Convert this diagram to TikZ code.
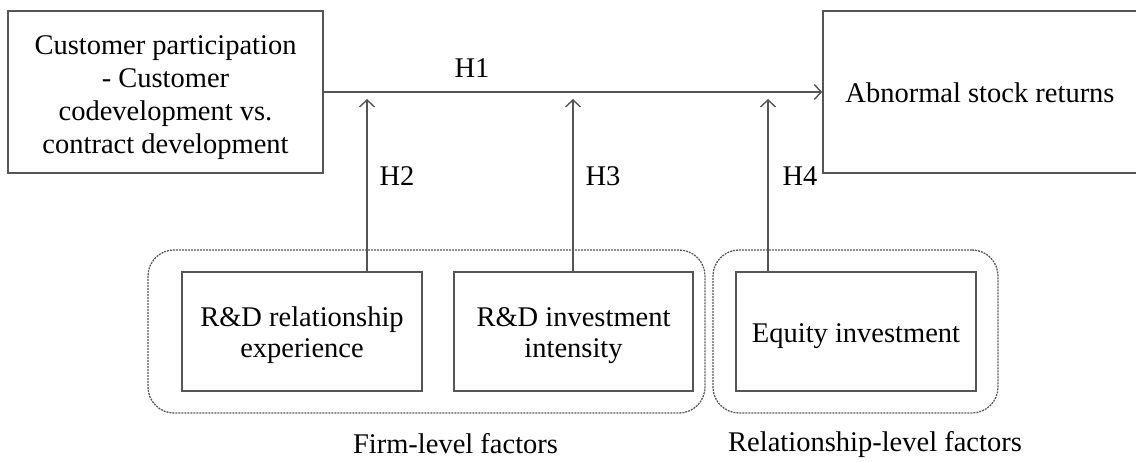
\documentclass[tikz,border=0pt]{standalone}
\usepackage{fontspec}
\setmainfont{Liberation Serif}
\usetikzlibrary{arrows.meta}
\definecolor{linegray}{RGB}{85,85,85}
\definecolor{dashgray}{RGB}{90,90,90}
\newcommand{\lift}[1]{\rule{0pt}{#1}}
\begin{document}
\begin{tikzpicture}[x=1pt,y=-1pt,
  txt/.style={font=\fontsize{28.5}{33}\selectfont, text=black, align=center, inner sep=0pt},
  varbox/.style={txt, draw=linegray, line width=1.6pt, minimum width=#1},
  groupbox/.style={draw=dashgray, line width=1.3pt, dash pattern=on 2pt off 1pt, rounded corners=26pt, minimum height=163pt, inner sep=0pt},
  link/.style={draw=linegray, line width=1.6pt, -{Straight Barb[length=7pt,width=15pt,line width=1.4pt]}},
  hlabel/.style={txt}
]
\useasboundingbox (0,0) rectangle (1136,462);

% groups
\node[groupbox, minimum width=557pt] (g1) at (426.5,331.5) {};
\node[groupbox, minimum width=285pt] (g2) at (855.5,331.5) {};

% main boxes
\node[varbox=315pt, minimum height=162pt] (cp) at (165.5,92) {\lift{30pt}Customer participation\\- Customer\\codevelopment vs.\\contract development};
\node[varbox=314pt, minimum height=162pt] (asr) at (980,92) {\lift{21pt}Abnormal stock returns};

% moderator boxes
\node[varbox=240pt, minimum height=119pt, font=\fontsize{28.5}{31}\selectfont] (rde) at (302,331.5) {\lift{27pt}R\&D relationship\\experience};
\node[varbox=239pt, minimum height=119pt, font=\fontsize{28.5}{31}\selectfont] (rdi) at (573.5,331.5) {\lift{27pt}R\&D investment\\intensity};
\node[varbox=240pt, minimum height=119pt] (eq) at (856,331.5) {\lift{27.5pt}Equity investment};

% main effect
\draw[link] (cp.east) -- (asr.west);
\node[hlabel] (h1) at (472,68) {H1};

% moderating effects
\coordinate (t2) at (367,99);
\coordinate (t3) at (573,99);
\coordinate (t4) at (768,99);
\draw[link] (t2 |- rde.north) -- (t2);
\draw[link] (t3 |- rdi.north) -- (t3);
\draw[link] (t4 |- eq.north) -- (t4);
\node[hlabel] (h2) at (397,176) {H2};
\node[hlabel] (h3) at (603,176) {H3};
\node[hlabel] (h4) at (800,176) {H4};

% group labels
\node[txt] (fl) at (455.5,444) {Firm-level factors};
\node[txt] (rl) at (875,444) {Relationship-level factors};
\end{tikzpicture}
\end{document}
